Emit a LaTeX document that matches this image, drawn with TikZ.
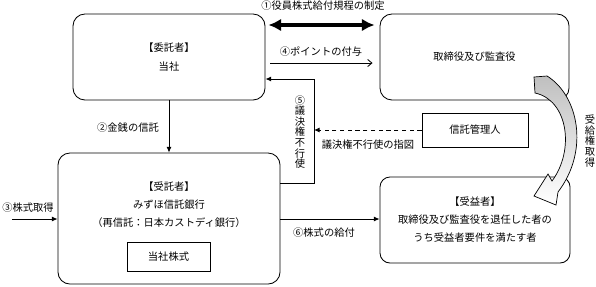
\documentclass[tikz,border=0pt]{standalone}
\usepackage{fontspec}
\setmainfont{Noto Sans CJK JP}
\usetikzlibrary{arrows.meta}

\begin{document}
\begin{tikzpicture}[x=0.025cm,y=-0.025cm,
        every node/.style={font=\fontsize{7.3}{8}\selectfont},
        box/.style={draw,line width=0.6pt,rounded corners=0.3cm,align=center,font=\fontsize{7.3}{13.2}\selectfont},
        sqbox/.style={draw,line width=0.6pt,align=center},
        vtext/.style={align=center,inner sep=0pt,font=\fontsize{7.3}{7.5}\selectfont},
        flow/.style={line width=0.6pt,-{Latex[length=4pt,width=3.5pt]}},
        dashflow/.style={flow,dash pattern=on 3pt off 2.5pt},
        give/.style={line width=0.6pt,-{Straight Barb[length=3pt,width=5pt]}},
        regarrow/.style={line width=3pt,{Latex[length=9pt,width=9pt]}-{Latex[length=9pt,width=9pt]}}]
    \useasboundingbox (0,0) rectangle (596,286);

    \node[box, minimum width=4.8cm, minimum height=2.15cm] (itaku) at (169,57) {【委託者】\\当社};
    \node[box, minimum width=4.725cm, minimum height=2.15cm] (yakuin) at (474.5,57) {取締役及び監査役};
    \node[box, minimum width=5.55cm, minimum height=3.275cm] (jutaku) at (169,218.5) {};
    \node[align=center, font=\fontsize{7.3}{12.8}\selectfont] (jutakutext) at (169,205)
        {【受託者】\\みずほ信託銀行\\（再信託：日本カストディ銀行）};
    \node[sqbox, minimum width=2.075cm, minimum height=0.725cm] (kabu) at (168.5,256.5) {当社株式};
    \node[sqbox, minimum width=2.65cm, minimum height=0.85cm] (kanri) at (475,130) {信託管理人};
    \node[box, minimum width=4.75cm, minimum height=2.15cm, rounded corners=0.25cm,
        font=\fontsize{7.3}{12.8}\selectfont] (juekisha) at (475,220)
        {【受益者】\\取締役及び監査役を退任した者の\\うち受益者要件を満たす者};

    \coordinate (src) at (12,219);
    \coordinate (v5b) at (314,183);
    \coordinate (v5t) at (314,79);

    \draw[regarrow, shorten <=0.075cm, shorten >=0.125cm] (itaku.east |- 0,25) -- (yakuin.west |- 0,25);
    \draw[give, shorten <=0.125cm, shorten >=0.175cm] (itaku.east |- 0,63) -- (yakuin.west |- 0,63);
    \draw[flow] (itaku.south) -- (jutaku.north);
    \draw[flow] (src) -- (jutaku.west |- src);
    \draw[flow] (jutaku.east |- 0,219) -- (juekisha.west |- 0,219);
    \draw[flow] (jutaku.east |- v5b) -- (v5b) -- (v5t) -- (itaku.east |- v5t);
    \draw[dashflow] (kanri.west) -- (v5t |- kanri.west);

    \node (l1) at (323,6) {①役員株式給付規程の制定};
    \node (l4) at (321,52) {④ポイントの付与};
    \node (l2) at (128,128) {②金銭の信託};
    \node (l3) at (28,208) {③株式取得};
    \node (l6) at (324,233) {⑥株式の給付};
    \node (lshizu) at (368,145) {議決権不行使の指図};
    \node[vtext] (l5) at (300,132) {⑤\\議\\決\\権\\不\\行\\使};
    \node[vtext] (lju) at (590,141) {受\\給\\権\\取\\得};

    % curved block arrow
    \draw[line width=0.5pt, top color=gray!50, middle color=gray!35, bottom color=white]
        (534,77) -- (547,76) .. controls (578,95) and (590,150) .. (558,192)
        -- (556,205) -- (534,196) -- (548,174) -- (552,181)
        .. controls (575,150) and (568,100) .. (535,93) -- cycle;
\end{tikzpicture}
\end{document}
